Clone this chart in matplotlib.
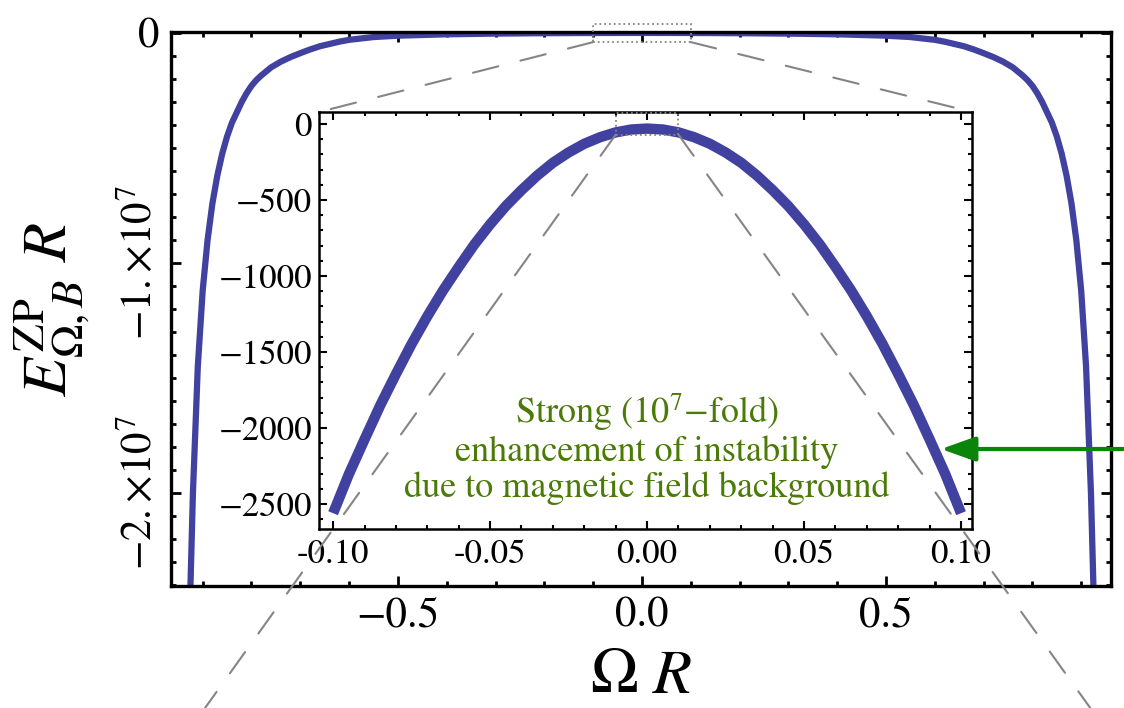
import numpy as np
import matplotlib
matplotlib.use("Agg")
import matplotlib.pyplot as plt
from matplotlib.patches import Rectangle, ConnectionPatch

plt.rcParams['font.family'] = 'STIXGeneral'
plt.rcParams['mathtext.fontset'] = 'stix'

# main curve, right half (curve is symmetric in Omega R), energy in units of 1e7
omega_half = [0.0, 0.1, 0.2, 0.3, 0.4, 0.45, 0.5, 0.55, 0.6, 0.62, 0.64, 0.66, 0.68,
              0.7, 0.72, 0.74, 0.76, 0.78, 0.79, 0.8, 0.81, 0.82, 0.83, 0.84, 0.85,
              0.86, 0.87, 0.88, 0.89, 0.9, 0.91, 0.92, 0.93]
energy_half = [0.0, -0.0003, -0.0012, -0.003, -0.006, -0.009, -0.012, -0.018, -0.03,
               -0.038, -0.048, -0.058, -0.072, -0.088, -0.105, -0.125, -0.15, -0.185,
               -0.205, -0.23, -0.262, -0.3, -0.345, -0.39, -0.45, -0.525, -0.62,
               -0.74, -0.9, -1.12, -1.45, -2.0, -2.8]

# inset curve, right half
inset_omega_half = [0.0, 0.005, 0.01, 0.015, 0.02, 0.025, 0.03, 0.035, 0.04, 0.045,
                    0.05, 0.055, 0.06, 0.065, 0.07, 0.075, 0.08, 0.085, 0.09, 0.095, 0.10]
inset_energy_half = [-30, -36, -55, -87, -130, -187, -255, -339, -435, -540,
                     -660, -792, -940, -1095, -1265, -1447, -1645, -1851, -2075, -2304, -2560]

main_xticks = [-0.5, 0.0, 0.5]
main_xlabels = ["\u22120.5", "0.0", "0.5"]
main_yticks = [0, -1e7, -2e7]
main_ylabels = ["0", r"$-1.{\times}10^{7}$", r"$-2.{\times}10^{7}$"]
inset_xticks = [-0.10, -0.05, 0.0, 0.05, 0.10]
inset_yticks = [0, -500, -1000, -1500, -2000, -2500]

note_lines = [r"Strong (10$^{7}$$-$fold)",
              "enhancement of instability",
              "due to magnetic field background"]

omega = np.concatenate([-np.array(omega_half[:0:-1]), omega_half])
energy = np.concatenate([np.array(energy_half[:0:-1]), energy_half]) * 1e7
inset_omega = np.concatenate([-np.array(inset_omega_half[:0:-1]), inset_omega_half])
inset_energy = np.concatenate([np.array(inset_energy_half[:0:-1]), inset_energy_half])

curve_color = "#4141a0"
gray = "#858585"

fig = plt.figure(figsize=(11.24, 7.08), dpi=100)
ax = fig.add_axes([0.1521, 0.1723, 0.8363, 0.7825])
ax.plot(omega, energy, color=curve_color, lw=4.5, solid_joinstyle='round')
ax.set_xlim(-0.965, 0.961)
ax.set_ylim(-2.404e7, 0.004e7)

ax.set_xticks(main_xticks, main_xlabels)
ax.set_xticks(np.arange(-0.9, 0.95, 0.1), minor=True)
ax.set_yticks(main_yticks, main_ylabels)
ax.set_yticks(np.arange(-24e6, 0.5e6, 1e6), minor=True)
ax.tick_params(which='both', direction='in', top=True, right=True, labelsize=31, width=2)
ax.tick_params(which='major', length=7)
ax.tick_params(which='minor', length=3.5)
ax.tick_params(axis='x', pad=8)
ax.tick_params(axis='y', pad=8)
for lbl in ax.get_yticklabels()[1:]:
    lbl.set_rotation(90)
    lbl.set_va('center')
for s in ax.spines.values():
    s.set_linewidth(2.4)

ax.set_xlabel(r"$\Omega\ R$", fontsize=46)
ax.xaxis.set_label_coords(0.5, -0.112)
ax.set_ylabel(r"$E_{\Omega,B}^{\rm ZP}\ R$", fontsize=46)
ax.yaxis.set_label_coords(-0.084, 0.5)

# zoom box on the main plot
ax.add_patch(Rectangle((-0.1, -4e5), 0.2, 8e5, fill=False, ls=':', lw=1.3,
                       ec=gray, clip_on=False, zorder=5))

# inset
axins = fig.add_axes([0.2838, 0.2528, 0.581, 0.589])
axins.plot(inset_omega, inset_energy, color=curve_color, lw=7.5, solid_capstyle='butt')
axins.set_xlim(-0.1045, 0.1035)
axins.set_ylim(-2664, 79)
axins.set_xticks(inset_xticks)
axins.set_xticks(np.arange(-0.1, 0.105, 0.01), minor=True)
axins.set_yticks(inset_yticks)
axins.set_yticks(np.arange(-2600, 1, 100), minor=True)
axins.xaxis.set_major_formatter(matplotlib.ticker.FormatStrFormatter('%.2f'))
axins.tick_params(which='both', direction='in', top=True, right=True, labelsize=25, width=1.5)
axins.tick_params(which='major', length=6)
axins.tick_params(which='minor', length=3)
axins.tick_params(axis='x', pad=7)
axins.tick_params(axis='y', pad=5)
for s in axins.spines.values():
    s.set_linewidth(1.8)

axins.add_patch(Rectangle((-0.01, -70), 0.02, 140, fill=False, ls=':', lw=1.3,
                          ec=gray, clip_on=False, zorder=5))

axins.text(0.0, -2130, "\n".join(note_lines), ha='center', va='center',
           fontsize=26, color="#4b7a08", linespacing=1.1)

dash = (0, (12.5, 11))
for xa, xb in [(-0.1, 0.0), (0.1, 1.0)]:
    con = ConnectionPatch(xyA=(xa, -4e5), coordsA=ax.transData,
                          xyB=(xb, 1.0), coordsB=axins.transAxes,
                          color=gray, lw=1.5, ls=dash)
    fig.add_artist(con)
for xa, xb in [(-0.01, 0.1824), (0.01, 0.970)]:
    con = ConnectionPatch(xyA=(xa, -70), coordsA=axins.transData,
                          xyB=(xb, 0.0), coordsB='figure fraction',
                          color=gray, lw=1.5, ls=dash)
    fig.add_artist(con)

fig.add_artist(matplotlib.patches.FancyArrowPatch(
    (1.01, 0.3658), (0.8372, 0.3658), transform=fig.transFigure,
    arrowstyle='-|>,head_length=0.7,head_width=0.25', mutation_scale=30,
    color='#0a850a', lw=3, shrinkA=0, shrinkB=0))

fig.savefig("out.png", dpi=100)
